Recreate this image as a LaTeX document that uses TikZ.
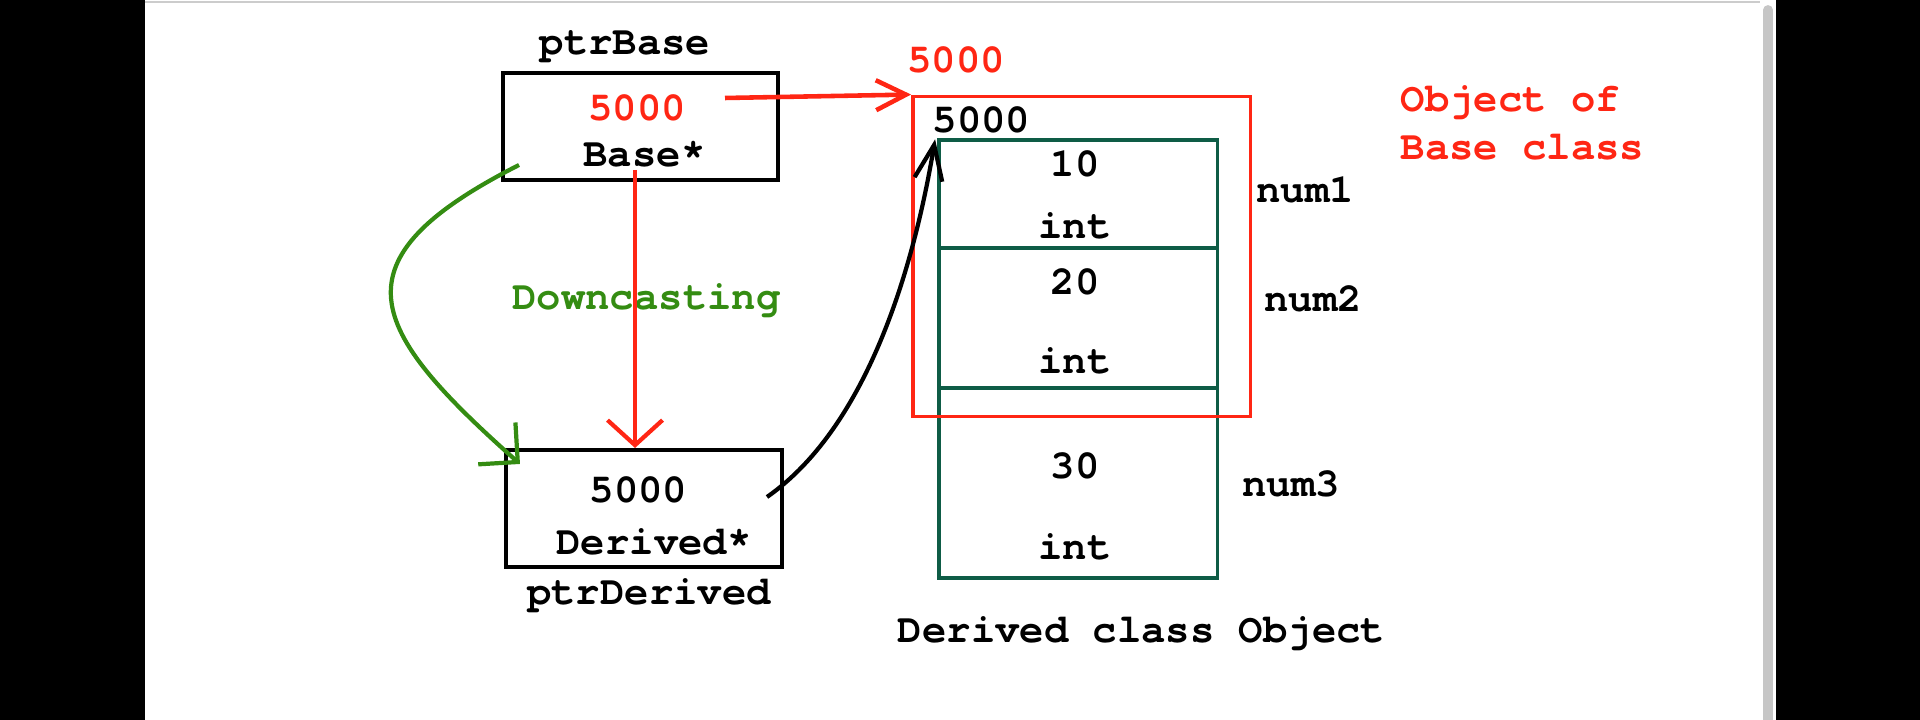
\documentclass[tikz,border=0pt]{standalone}
\usepackage{fontspec}
\setmonofont{texgyrecursor}[Extension=.otf, UprightFont=*-regular, BoldFont=*-bold]
\usetikzlibrary{arrows.meta}
\definecolor{ptrred}{RGB}{255,38,20}
\definecolor{castgreen}{RGB}{52,140,18}
\definecolor{memteal}{RGB}{14,92,70}
\tikzset{
	lbl/.style={font=\ttfamily\bfseries\fontsize{11.55}{13}\selectfont, inner sep=0pt, anchor=base},
	ptrbox/.style={draw, line width=1.15pt, minimum width=2.75cm, minimum height=1.07cm, inner sep=0pt},
	cell/.style={draw=memteal, line width=1pt},
}

\begin{document}
\begin{tikzpicture}
	\useasboundingbox (0,0) rectangle (19.2,-7.2);
	\fill (0,0) rectangle (1.45,-7.2);
	\fill (17.76,0) rectangle (19.2,-7.2);
	\draw[gray!40, line width=0.6pt] (1.45,-0.02) -- (17.6,-0.02);
	\draw[gray!45, line width=2.8pt, line cap=round] (17.68,-0.1) -- (17.68,-7.3);

	\node[ptrbox] (ptrBase) at (6.405,-1.265) {};
	\node[lbl] (ptrBaseName) at (6.25,-0.55) {ptrBase};
	\node[lbl, ptrred] (baseVal) at (6.37,-1.21) {5000};
	\node[lbl] (baseType) at (6.445,-1.67) {Base*};

	\node[ptrbox, minimum width=2.76cm, minimum height=1.17cm] (ptrDerived) at (6.44,-5.085) {};
	\node[lbl] (derVal) at (6.385,-5.03) {5000};
	\node[lbl] (derType) at (6.54,-5.55) {Derived*};
	\node[lbl] (ptrDerivedName) at (6.49,-6.05) {ptrDerived};
	\node[lbl, castgreen] (castLbl) at (6.465,-3.10) {Downcasting};

	\node[lbl, ptrred] (addrLbl) at (9.56,-0.73) {5000};
	\foreach \i/\ya/\yb/\cval/\vy/\ty/\nx/\ny in {1/1.40/2.48/10/1.77/2.39/13.05/2.03, 2/2.48/3.88/20/2.95/3.74/13.13/3.12, 3/3.88/5.78/30/4.79/5.60/12.91/4.97}{
			\draw[cell] (9.39,-\ya) rectangle (12.175,-\yb);
			\node[lbl] (val\i) at (10.75,-\vy) {\cval};
			\node[lbl] (type\i) at (10.75,-\ty) {int};
			\node[lbl] (num\i) at (\nx,-\ny) {num\i};
		}
	\node[draw=ptrred, line width=1.1pt, minimum width=3.375cm, minimum height=3.2cm, inner sep=0pt] (baseObj) at (10.8175,-2.565) {};
	\node[lbl] (objAddr) at (9.815,-1.33) {5000};
	\node[lbl, ptrred, anchor=base west] (baseObjName) at (14.0,-1.12) {Object of};
	\node[lbl, ptrred, anchor=base west] (baseObjName2) at (14.0,-1.60) {Base class};
	\node[lbl] (objName) at (11.415,-6.43) {Derived class Object};

	\coordinate (valOut) at (7.25,-0.98);
	\coordinate (castFrom) at (6.35,-1.70);
	\coordinate (castOut) at (5.19,-1.65);
	\coordinate (derOut) at (7.67,-4.97);

	\draw[ptrred, line width=1.3pt, -{Straight Barb[length=3mm,width=3mm]}] (valOut) -- (baseObj.north west);
	\draw[ptrred, line width=1.2pt, -{Straight Barb[length=2.5mm,width=5.5mm]}] (castFrom) -- (castFrom |- ptrDerived.north);
	\draw[castgreen, line width=1.2pt, -{Straight Barb[length=2.8mm,width=5.6mm]}] (castOut) .. controls (3.30,-2.61) and (3.68,-3.29) .. ([shift={(0.16,-0.16)}]ptrDerived.north west);
	\draw[line width=1.2pt, -{Straight Barb[length=3.5mm,width=2.8mm]}] (derOut) .. controls (8.70,-4.25) and (9.15,-2.60) .. ([shift={(0.03,-0.05)}]objAddr.south west);
\end{tikzpicture}
\end{document}
